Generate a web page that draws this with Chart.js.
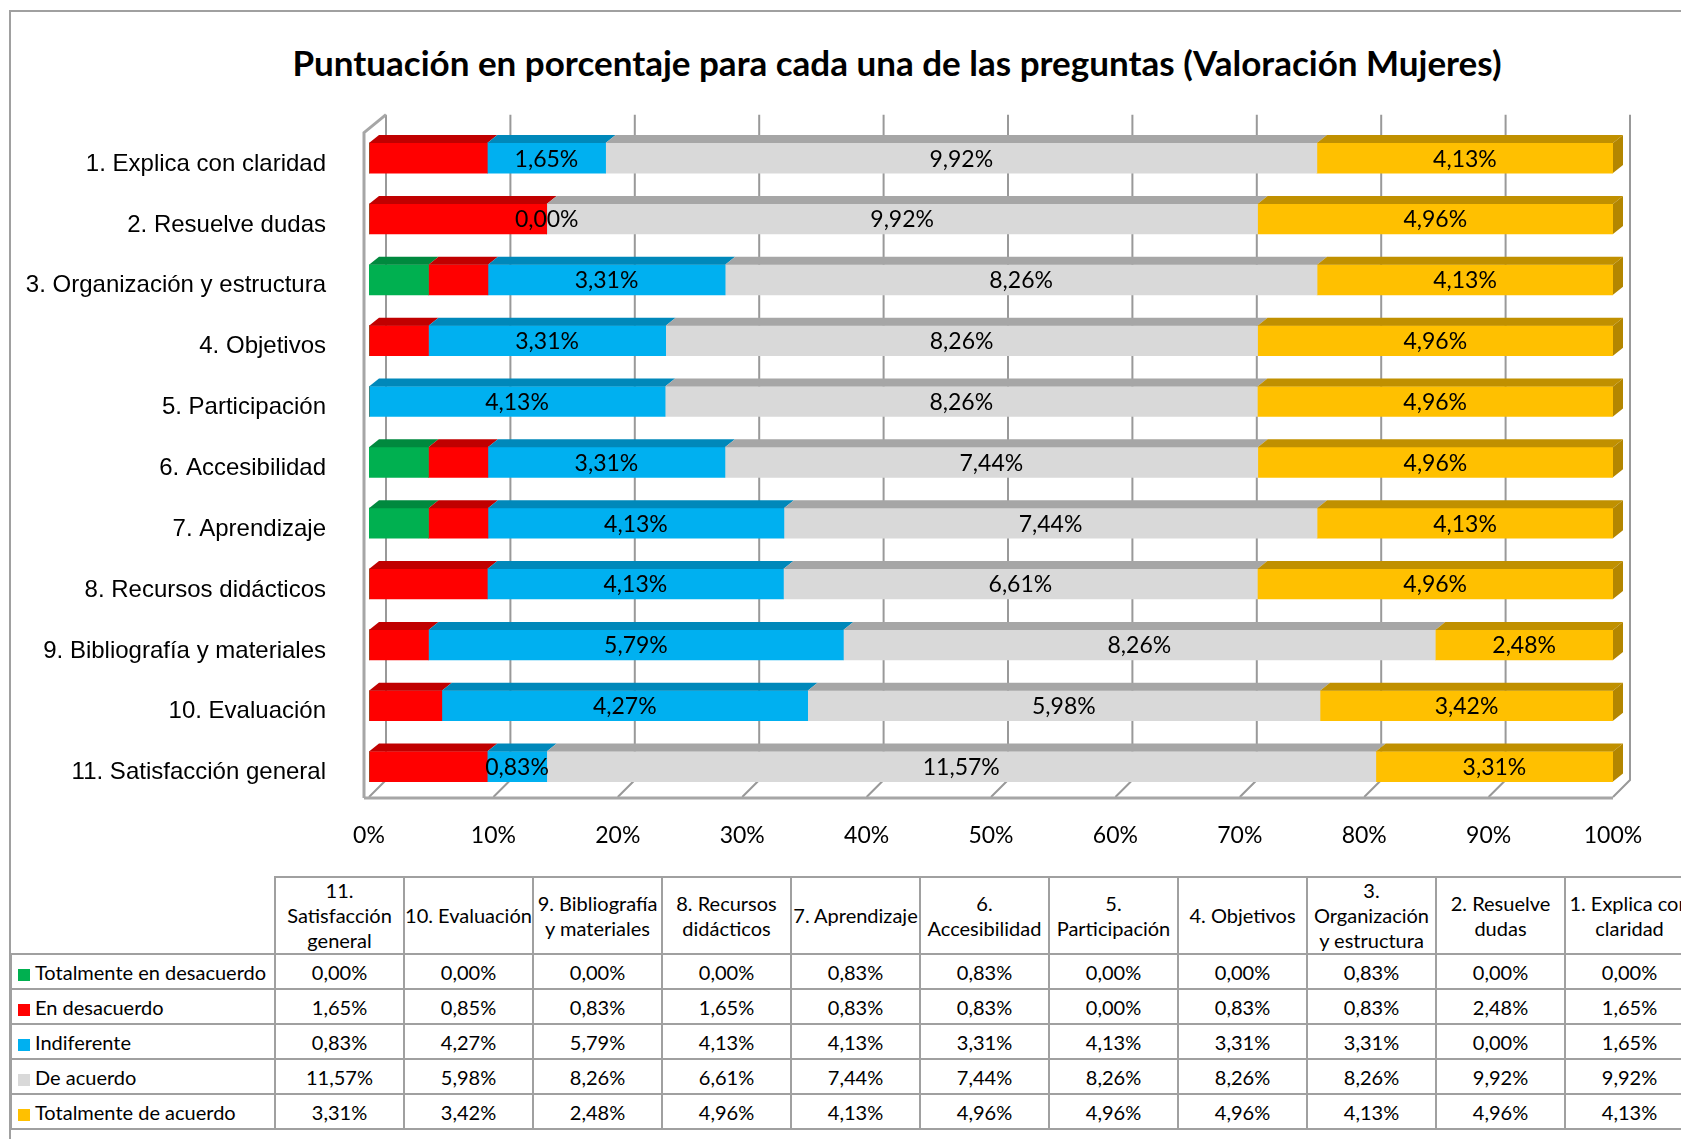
<!DOCTYPE html>
<html lang="es">
<head>
<meta charset="UTF-8">
<title>Puntuación en porcentaje (Valoración Mujeres)</title>
<script src="https://cdn.jsdelivr.net/npm/chart.js"></script>
<style>
  html, body { margin: 0; padding: 0; background: #fff; overflow: hidden; width: 1681px; height: 1139px; }
  #frame { position: absolute; left: 9px; top: 10px; width: 1790px; height: 1200px; border: 2px solid #a0a0a0; box-sizing: border-box; }
  #titulo { position: absolute; left: 0; top: 42px; width: 1794px; text-align: center; white-space: nowrap;
            font-family: Lato, sans-serif; font-weight: bold; font-size: 35px; line-height: 40px; color: #000; }
  #chartBox { position: absolute; left: 0; top: 0; width: 1794px; height: 870px; }
  #tabla { position: absolute; left: 10px; top: 876px; width: 1683px; border-collapse: collapse; table-layout: fixed;
           font-family: Lato, sans-serif; font-size: 20px; color: #000; }
  #tabla th, #tabla td { border: 2px solid #a0a0a0; text-align: center; padding: 0; font-weight: normal; }
  #tabla th { height: 70px; line-height: 25px; }
  #tabla td { height: 33px; }
  #tabla th.blank { border-top: none; border-left: none; }
  #tabla td.serie { text-align: left; padding-left: 6px; white-space: nowrap; }
  .key { display: inline-block; width: 12px; height: 12px; margin-right: 5px; vertical-align: -1px; }
</style>
</head>
<body>
<div id="frame"></div>
<div id="titulo">Puntuación en porcentaje para cada una de las preguntas (Valoración Mujeres)</div>
<div id="chartBox"><canvas id="barChart"></canvas></div>
<table id="tabla"></table>

<script>
  const categories = [
    '1. Explica con claridad', '2. Resuelve dudas', '3. Organización y estructura',
    '4. Objetivos', '5. Participación', '6. Accesibilidad', '7. Aprendizaje',
    '8. Recursos didácticos', '9. Bibliografía y materiales', '10. Evaluación',
    '11. Satisfacción general'
  ];
  const seriesNames = ['Totalmente en desacuerdo', 'En desacuerdo', 'Indiferente', 'De acuerdo', 'Totalmente de acuerdo'];

  // valores en % por pregunta (1 .. 11)
  const totDesacuerdo = [0.00, 0.00, 0.83, 0.00, 0.00, 0.83, 0.83, 0.00, 0.00, 0.00, 0.00];
  const desacuerdo    = [1.65, 2.48, 0.83, 0.83, 0.00, 0.83, 0.83, 1.65, 0.83, 0.85, 1.65];
  const indiferente   = [1.65, 0.00, 3.31, 3.31, 4.13, 3.31, 4.13, 4.13, 5.79, 4.27, 0.83];
  const deAcuerdo     = [9.92, 9.92, 8.26, 8.26, 8.26, 7.44, 7.44, 6.61, 8.26, 5.98, 11.57];
  const totAcuerdo    = [4.13, 4.96, 4.13, 4.96, 4.96, 4.96, 4.13, 4.96, 2.48, 3.42, 3.31];

  const series = [totDesacuerdo, desacuerdo, indiferente, deAcuerdo, totAcuerdo];
  const colors = ['#00B050', '#FF0000', '#00B0F0', '#D9D9D9', '#FFC000'];
  const topColors = ['#00893E', '#C00000', '#0088BA', '#A6A6A6', '#C09000'];
  const sideColor = '#B38600';
  const labelled = [2, 3, 4]; // series con etiqueta visible

  const fmt = v => v.toFixed(2).replace('.', ',') + '%';
  const totals = categories.map((c, i) => series.reduce((s, arr) => s + arr[i], 0));

  // profundidad 3D
  const DX = 17, DY = 17, BDX = 10, BDY = 8;

  const walls3d = {
    id: 'walls3d',
    beforeDatasetsDraw(chart) {
      const { ctx, chartArea: a, scales: { x } } = chart;
      const backTop = a.top - 13, backBot = a.bottom - DY;
      const x0 = x.getPixelForValue(0), x100 = x.getPixelForValue(100);
      ctx.save();
      ctx.strokeStyle = '#999';
      ctx.lineWidth = 2;
      x.ticks.forEach(t => {
        const px = x.getPixelForValue(t.value);
        ctx.beginPath();
        ctx.moveTo(px + DX, backTop);
        ctx.lineTo(px + DX, backBot);
        ctx.lineTo(px, a.bottom);
        ctx.stroke();
      });
      // pared izquierda
      ctx.strokeStyle = '#a6a6a6';
      ctx.lineWidth = 3;
      ctx.beginPath();
      ctx.moveTo(x0 - 5, a.bottom + 1);
      ctx.lineTo(x0 - 5, a.top + 5);
      ctx.lineTo(x0 + DX, backTop);
      ctx.stroke();
      // suelo
      ctx.beginPath();
      ctx.moveTo(x0 - 5, a.bottom + 1);
      ctx.lineTo(x100, a.bottom + 1);
      ctx.stroke();
      ctx.restore();
    },
    afterDatasetsDraw(chart) {
      const { ctx } = chart;
      ctx.save();
      chart.data.datasets.forEach((ds, di) => {
        chart.getDatasetMeta(di).data.forEach(el => {
          const p = el.getProps(['x', 'y', 'base', 'height'], true);
          const l = Math.min(p.base, p.x), r = Math.max(p.base, p.x);
          const top = p.y - p.height / 2, bot = p.y + p.height / 2;
          if (r - l < 0.5) return;
          ctx.fillStyle = topColors[di];
          ctx.beginPath();
          ctx.moveTo(l, top); ctx.lineTo(r, top);
          ctx.lineTo(r + BDX, top - BDY); ctx.lineTo(l + BDX, top - BDY);
          ctx.closePath(); ctx.fill();
          if (di === chart.data.datasets.length - 1) {
            ctx.fillStyle = sideColor;
            ctx.beginPath();
            ctx.moveTo(r, top); ctx.lineTo(r + BDX, top - BDY);
            ctx.lineTo(r + BDX, bot - BDY); ctx.lineTo(r, bot);
            ctx.closePath(); ctx.fill();
          }
        });
      });
      // etiquetas
      ctx.fillStyle = '#000';
      ctx.font = '23px Lato';
      ctx.textAlign = 'center';
      ctx.textBaseline = 'middle';
      labelled.forEach(di => {
        chart.getDatasetMeta(di).data.forEach((el, i) => {
          const p = el.getProps(['x', 'y', 'base'], true);
          ctx.fillText(fmt(chart.data.datasets[di].raw[i]), (p.x + p.base) / 2, p.y + 1);
        });
      });
      ctx.restore();
    }
  };

  new Chart(document.getElementById('barChart'), {
    type: 'bar',
    data: {
      labels: categories,
      datasets: series.map((arr, k) => ({
        label: seriesNames[k],
        raw: arr,
        data: arr.map((v, i) => v / totals[i] * 100),
        backgroundColor: colors[k],
        borderWidth: 0,
        barThickness: 30
      }))
    },
    options: {
      indexAxis: 'y',
      responsive: true,
      maintainAspectRatio: false,
      animation: false,
      layout: { padding: { top: 127.7, right: 181, left: 0, bottom: 0 } },
      plugins: {
        legend: { display: false },
        tooltip: { enabled: false },
        title: { display: false }
      },
      scales: {
        x: {
          stacked: true, min: 0, max: 100,
          grid: { display: false, drawTicks: false },
          border: { display: false },
          ticks: {
            stepSize: 10, autoSkip: false, padding: 25, color: '#000',
            font: { family: 'Lato', size: 23 },
            callback: v => v + '%'
          },
          afterFit: s => { s.height = 73; }
        },
        y: {
          stacked: true,
          grid: { display: false, drawTicks: false },
          border: { display: false },
          ticks: {
            autoSkip: false, padding: 43, labelOffset: 6, color: '#000',
            font: { family: 'Liberation Sans', size: 24 }
          },
          afterFit: s => { s.width = 369; }
        }
      }
    },
    plugins: [walls3d]
  });

  // tabla de datos (preguntas en orden inverso, como en el original)
  const tableHeaders = categories.map(c => c.replace(' y ', ' y\u00a0'));
  const tabla = document.getElementById('tabla');
  const order = categories.map((c, i) => i).reverse();
  let html = '<colgroup><col style="width:264px">' + order.map(() => '<col style="width:129px">').join('') + '</colgroup>';
  html += '<tr><th class="blank"></th>' + order.map(i => '<th>' + tableHeaders[i] + '</th>').join('') + '</tr>';
  series.forEach((arr, k) => {
    html += '<tr><td class="serie"><span class="key" style="background:' + colors[k] + '"></span>' + seriesNames[k] + '</td>' +
      order.map(i => '<td>' + fmt(arr[i]) + '</td>').join('') + '</tr>';
  });
  tabla.innerHTML = html;
</script>
</body>
</html>
